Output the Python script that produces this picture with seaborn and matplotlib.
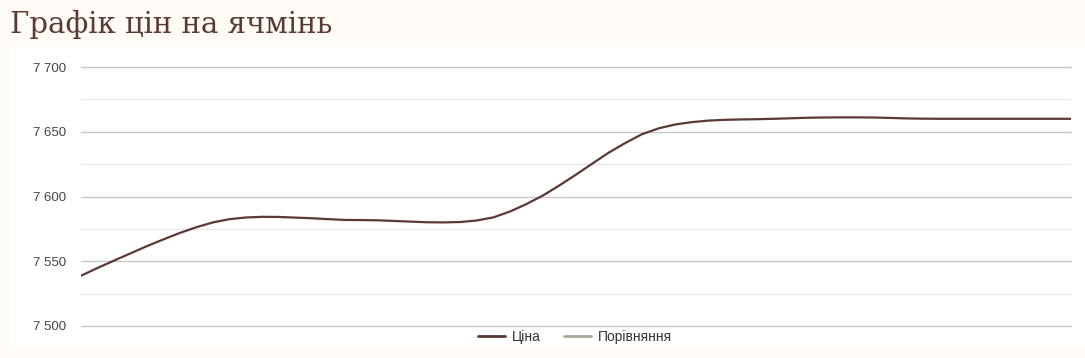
import matplotlib
matplotlib.use("Agg")
import matplotlib.pyplot as plt
from matplotlib.lines import Line2D
from matplotlib.patches import Rectangle
from matplotlib.ticker import FuncFormatter, FixedLocator
import seaborn as sns
import pandas as pd

# ---- data ----
title = "Графік цін на ячмінь"
series_price = "Ціна"
series_compare = "Порівняння"
price = [7538.8, 7544.8, 7550.5, 7556.1, 7561.7, 7566.9, 7571.9, 7576.3,
         7580.0, 7582.5, 7583.8, 7584.3, 7584.2, 7583.7, 7583.2, 7582.5,
         7581.9, 7581.8, 7581.6, 7581.1, 7580.6, 7580.1, 7580.0, 7580.3,
         7581.5, 7583.9, 7588.4, 7594.2, 7600.8, 7608.6, 7616.9, 7625.5,
         7634.0, 7641.4, 7648.1, 7652.6, 7655.6, 7657.4, 7658.6, 7659.2,
         7659.5, 7659.7, 7660.0, 7660.4, 7660.8, 7661.0, 7661.1, 7661.1,
         7661.0, 7660.7, 7660.3, 7660.1, 7660.0, 7660.0, 7660.0, 7660.0,
         7660.0, 7660.0, 7660.0, 7660.0, 7660.0]
day = list(range(len(price)))
y_ticks = [7500, 7550, 7600, 7650, 7700]
y_minor = [7525, 7575, 7625, 7675]

W, H = 1085, 358
sns.set_theme(style="white")
plt.rcParams['font.family'] = ['Liberation Sans', 'DejaVu Sans']

fig = plt.figure(figsize=(W / 100, H / 100), dpi=100)
fig.patch.set_facecolor("#fffbf7")
fig.patches.append(Rectangle((10 / W, (H - 347) / H), 1 - 10 / W, 300 / H,
                             transform=fig.transFigure, facecolor="white",
                             edgecolor="none", zorder=-5))

ax = fig.add_axes([81 / W, (H - 326) / H, (1071 - 81) / W, (326 - 67) / H])
ax.set_facecolor("none")
ax.set_zorder(2)

df = pd.DataFrame({"day": day, "price": price})
sns.lineplot(data=df, x="day", y="price", ax=ax, color="#5a3a33",
             linewidth=1.6, legend=False, zorder=3)

ax.set_xlim(day[0], day[-1])
ax.set_ylim(y_ticks[0], y_ticks[-1])
ax.set_yticks(y_ticks)
ax.yaxis.set_minor_locator(FixedLocator(y_minor))
ax.yaxis.set_major_formatter(FuncFormatter(lambda v, p: f"{int(v):,}".replace(",", " ")))
ax.grid(axis="y", which="major", color="#c8c8c8", linewidth=1, clip_on=False)
ax.grid(axis="y", which="minor", color="#e9e9e9", linewidth=1)
for gl in ax.yaxis.get_gridlines():
    gl.set_clip_on(False)
ax.set_axisbelow(True)
ax.set_xticks([])
ax.set_xlabel("")
ax.set_ylabel("")
for s in ax.spines.values():
    s.set_visible(False)
ax.tick_params(axis="y", which="both", length=0, pad=11, labelsize=9.5,
               labelcolor="#444444")

fig.text(10 / W, 1 - 33 / H, title, fontsize=21, color="#5a3a33",
         family=["DejaVu Serif"], va="baseline", ha="left")

handles = [Line2D([], [], color="#5a3a33", linewidth=2),
           Line2D([], [], color="#a5a795", linewidth=2)]
fig.legend(handles, [series_price, series_compare], loc="center",
           bbox_to_anchor=(575 / W, 1 - 337 / H), ncol=2, frameon=False,
           fontsize=10, handlelength=1.95, handletextpad=0.5,
           columnspacing=1.65, labelcolor="#333333")

fig.savefig("out.png", dpi=100, facecolor=fig.get_facecolor())
